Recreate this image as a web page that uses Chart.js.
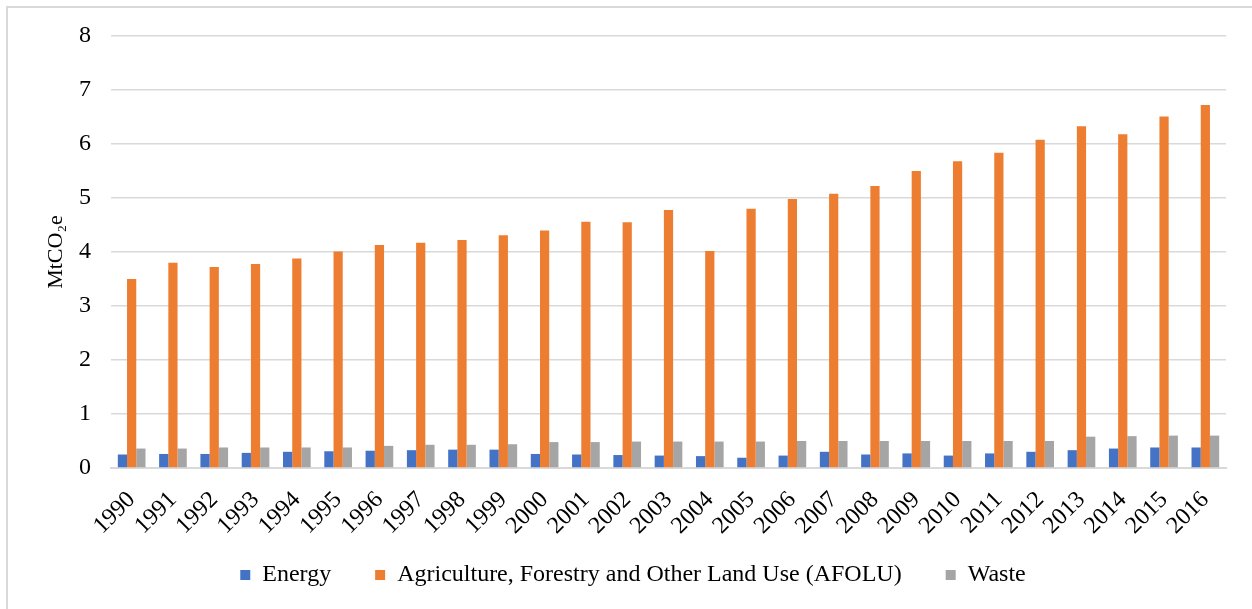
<!DOCTYPE html>
<html>
<head>
<meta charset="utf-8">
<script src="https://cdn.jsdelivr.net/npm/chart.js@4"></script>
<style>
  body { margin: 0; background: #fff; overflow: hidden; }
  #frame { position: absolute; left: 6px; top: 6px; width: 1300px; height: 700px; border: 2px solid #d9d9d9; }
  #wrap { position: absolute; left: 0; top: 0; width: 1252px; height: 609px; }
</style>
</head>
<body>
<div id="frame"></div>
<div id="wrap"><canvas id="emissionsChart" width="1252" height="609"></canvas></div>
<script>
const years = ['1990', '1991', '1992', '1993', '1994', '1995', '1996', '1997', '1998', '1999',
  '2000', '2001', '2002', '2003', '2004', '2005', '2006', '2007', '2008', '2009',
  '2010', '2011', '2012', '2013', '2014', '2015', '2016'];

const energy = [0.25, 0.26, 0.26, 0.28, 0.30, 0.31, 0.32, 0.33, 0.34, 0.34,
  0.26, 0.25, 0.24, 0.23, 0.22, 0.19, 0.23, 0.30, 0.25, 0.27,
  0.23, 0.27, 0.30, 0.33, 0.36, 0.38, 0.38];

const afolu = [3.50, 3.80, 3.72, 3.78, 3.88, 4.01, 4.13, 4.17, 4.22, 4.31,
  4.40, 4.56, 4.55, 4.78, 4.02, 4.80, 4.98, 5.08, 5.22, 5.50,
  5.68, 5.84, 6.08, 6.33, 6.18, 6.51, 6.72];

const waste = [0.36, 0.36, 0.38, 0.38, 0.38, 0.38, 0.41, 0.43, 0.43, 0.44,
  0.48, 0.48, 0.49, 0.49, 0.49, 0.49, 0.50, 0.50, 0.50, 0.50,
  0.50, 0.50, 0.50, 0.58, 0.59, 0.60, 0.60];

const seriesNames = ['Energy', 'Agriculture, Forestry and Other Land Use (AFOLU)', 'Waste'];
const seriesColors = ['#4472C4', '#ED7D31', '#A5A5A5'];

const serif = "'Liberation Serif', 'Times New Roman', serif";
const ctx = document.getElementById('emissionsChart');

const emissionsChart = new Chart(ctx, {
  type: 'bar',
  data: {
    labels: years,
    datasets: [energy, afolu, waste].map((values, i) => ({
      label: seriesNames[i],
      data: values,
      backgroundColor: seriesColors[i],
      categoryPercentage: 0.67,
      barPercentage: 1,
    })),
  },
  options: {
    responsive: false,
    animation: false,
    layout: { padding: { left: 40, right: 26, top: 36, bottom: 12 } },
    plugins: {
      tooltip: { enabled: false },
      legend: {
        position: 'bottom',
        labels: {
          boxWidth: 10,
          boxHeight: 10,
          padding: 44,
          color: '#000',
          font: { family: serif, size: 24 },
        },
      },
    },
    scales: {
      x: {
        grid: { display: false },
        border: { color: '#d9d9d9', width: 2 },
        ticks: {
          autoSkip: false,
          minRotation: 45,
          maxRotation: 45,
          padding: 10,
          color: '#000',
          font: { family: serif, size: 24 },
        },
        afterFit(scale) {
          scale.height = 51;
          // year labels hang below the axis box; don't clip them to it
          scale._computeLabelArea = () => undefined;
        },
      },
      y: {
        min: 0,
        max: 8,
        ticks: { stepSize: 1, padding: 20, color: '#000', font: { family: serif, size: 24 } },
        grid: { color: '#d9d9d9', lineWidth: 1.5, drawTicks: false },
        border: { display: false },
        title: {
          display: true,
          text: 'MtCO₂e',
          color: '#000',
          font: { family: serif, size: 22 },
          padding: { top: 3, bottom: 0 },
        },
        afterFit(scale) { scale.width = 71; },
      },
    },
  },
});
</script>
</body>
</html>
